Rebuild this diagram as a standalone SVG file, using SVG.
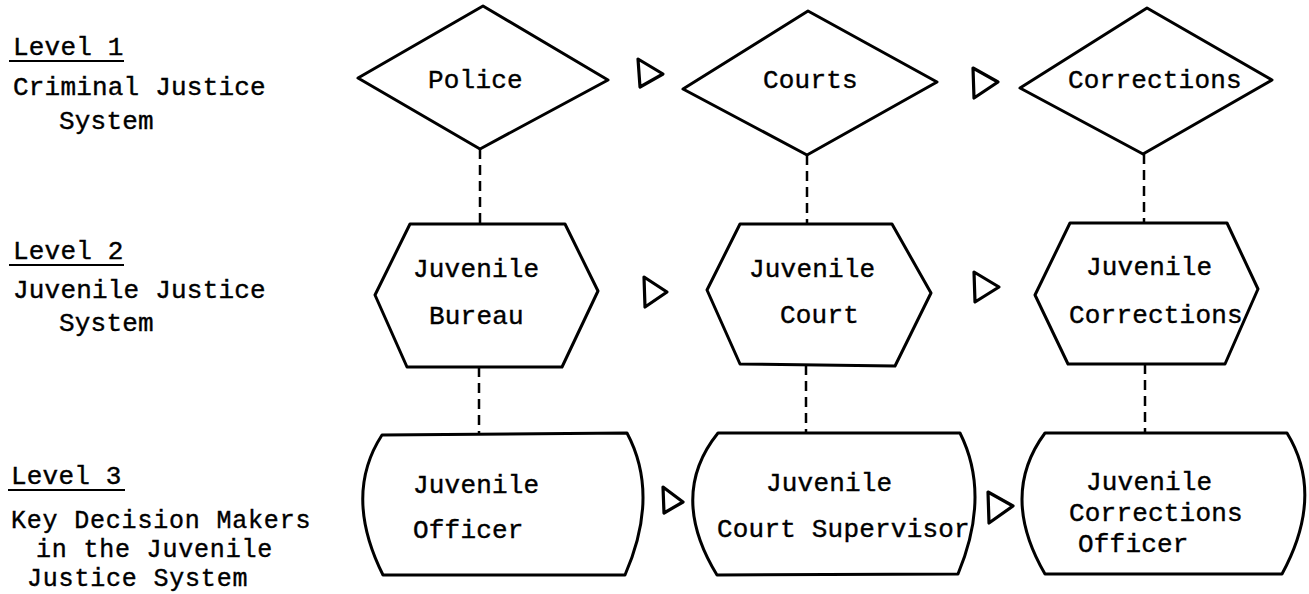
<svg xmlns="http://www.w3.org/2000/svg" width="1309" height="594" viewBox="0 0 1309 594">
<style>
text{font-family:"Liberation Mono","DejaVu Sans Mono",monospace;font-size:26px;letter-spacing:0.2px;fill:#000;stroke:#000;stroke-width:0.4}
text.sm{font-size:25px;letter-spacing:0.8px}
.shape{fill:none;stroke:#000;stroke-width:3;stroke-linejoin:round}
.dash{stroke:#000;stroke-width:2.5;stroke-dasharray:10 6;fill:none}
.arr{fill:none;stroke:#000;stroke-width:3.2;stroke-linejoin:round}
.ul{stroke:#000;stroke-width:2}
</style>
<rect width="1309" height="594" fill="#fff"/>
<g id="levels">
<text x="13" y="55">Level 1</text><line class="ul" x1="9" y1="61" x2="124" y2="61"/>
<text x="13" y="95">Criminal Justice</text>
<text x="59" y="129">System</text>
<text x="13" y="259">Level 2</text><line class="ul" x1="9" y1="265" x2="124" y2="265"/>
<text x="13" y="298">Juvenile Justice</text>
<text x="59" y="331">System</text>
<text x="11" y="484">Level 3</text><line class="ul" x1="8" y1="490" x2="125" y2="490"/>
<text class="sm" x="11" y="528">Key Decision Makers</text>
<text class="sm" x="36" y="557">in the Juvenile</text>
<text class="sm" x="27" y="586">Justice System</text>
</g>
<g id="connectors">
<line class="dash" x1="480" y1="149" x2="480" y2="224"/>
<line class="dash" x1="807" y1="155" x2="807" y2="224"/>
<line class="dash" x1="1144" y1="154" x2="1144" y2="223"/>
<line class="dash" x1="479" y1="367" x2="479" y2="435"/>
<line class="dash" x1="806" y1="365" x2="806" y2="433"/>
<line class="dash" x1="1145" y1="364" x2="1145" y2="433"/>
<polygon class="arr" points="638,59 663,74 640,87"/>
<polygon class="arr" points="973,68 998,82 974,98"/>
<polygon class="arr" points="644,277 667,292 645,307"/>
<polygon class="arr" points="974,272 999,287 975,302"/>
<polygon class="arr" points="663,487 683,502 664,513"/>
<polygon class="arr" points="988,492 1013,506 989,523"/>
</g>
<g id="police">
<polygon class="shape" points="483,6 608,80 480,149 358,78"/>
<text x="428" y="88">Police</text>
</g>
<g id="courts">
<polygon class="shape" points="808,11 937,82 807,155 683,89"/>
<text x="763" y="88">Courts</text>
</g>
<g id="corrections">
<polygon class="shape" points="1147,8 1272,80 1143,154 1020,88"/>
<text x="1068" y="88">Corrections</text>
</g>
<g id="juvenile-bureau">
<polygon class="shape" points="410,224 565,224 598,291 562,367 407,367 375,295"/>
<text x="413" y="277">Juvenile</text>
<text x="429" y="324">Bureau</text>
</g>
<g id="juvenile-court">
<polygon class="shape" points="740,224 892,224 931,293 895,366 740,364 707,290"/>
<text x="749" y="277">Juvenile</text>
<text x="780" y="323">Court</text>
</g>
<g id="juvenile-corrections">
<polygon class="shape" points="1070,223 1227,223 1258,289 1225,364 1068,364 1035,295"/>
<text x="1086" y="275">Juvenile</text>
<text x="1069" y="323">Corrections</text>
</g>
<g id="juvenile-officer">
<path class="shape" d="M382,435 L627,433 Q660,495 625,575 L383,575 Q343,495 382,435 Z"/>
<text x="413" y="493">Juvenile</text>
<text x="413" y="538">Officer</text>
</g>
<g id="court-supervisor">
<path class="shape" d="M718,433 L960,433 Q991,495 958,574 L717,575 Q668,495 718,433 Z"/>
<text x="766" y="491">Juvenile</text>
<text x="717" y="537">Court Supervisor</text>
</g>
<g id="corrections-officer">
<path class="shape" d="M1045,433 L1287,433 Q1325,495 1282,574 L1045,574 Q999,495 1045,433 Z"/>
<text x="1086" y="490">Juvenile</text>
<text x="1069" y="521">Corrections</text>
<text x="1078" y="552">Officer</text>
</g>
</svg>
